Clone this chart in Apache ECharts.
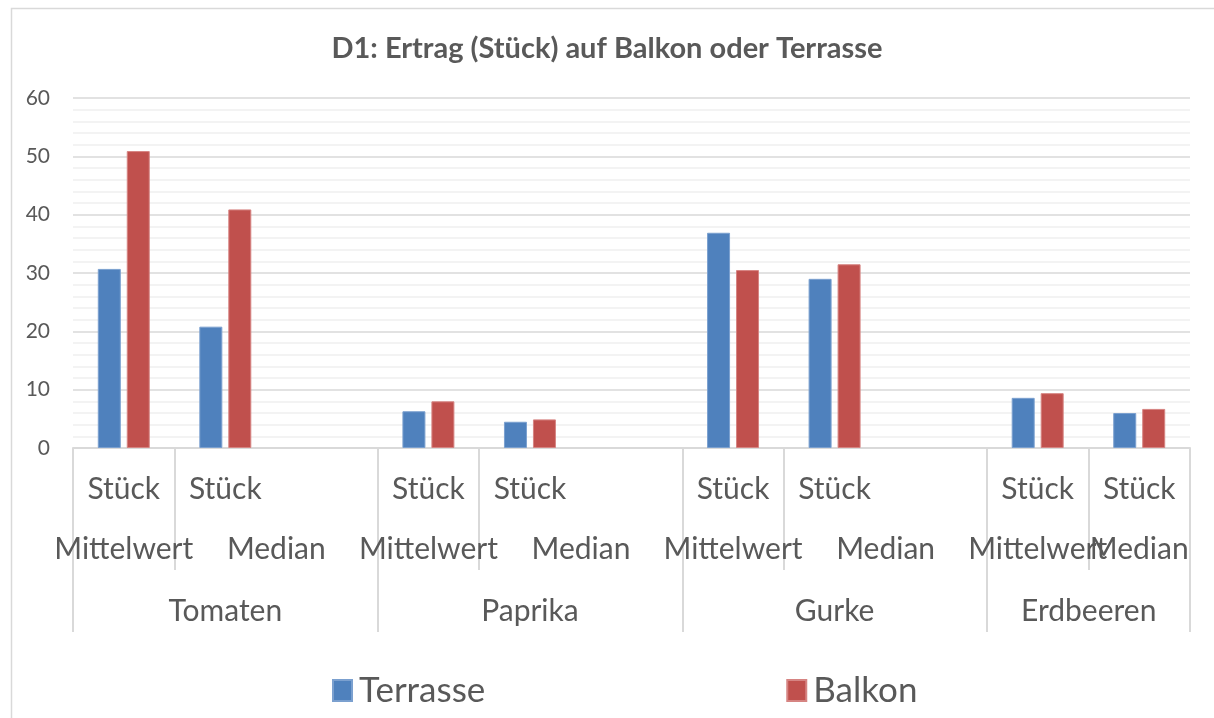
<!DOCTYPE html>
<html><head><meta charset="utf-8">
<script src="https://cdn.jsdelivr.net/npm/echarts@6/dist/echarts.min.js"></script>
<style>html,body{margin:0;padding:0;background:#fff}#c{width:1214px;height:718px}</style>
</head><body><div id="c"></div>
<script>
const chartTitle = 'D1: Ertrag (Stück) auf Balkon oder Terrasse';
const groups = ['Tomaten', 'Paprika', 'Gurke', 'Erdbeeren'];
const categories = ['Stück Mittelwert', 'Stück Median', '',
                    'Stück Mittelwert', 'Stück Median', '',
                    'Stück Mittelwert', 'Stück Median', '',
                    'Stück Mittelwert', 'Stück Median'];
const seriesNames = ['Terrasse', 'Balkon'];
const terrasse = [30.7, 20.8, null, 6.3, 4.5, null, 36.9, 29.0, null, 8.6, 6.0];
const balkon   = [50.9, 40.9, null, 8.0, 4.9, null, 30.5, 31.5, null, 9.4, 6.7];
const yMin = 0, yMax = 60, yStep = 10;

const FONT = 'Lato';
const TXT = '#595959';
const GRIDC = '#d9d9d9';
const W = 1214, H = 718;
const gridL = 73, gridR = 24, gridT = 98, gridB = 270;
const band = (W - gridL - gridR) / categories.length;

// group starts: where a 'Mittelwert' category begins a group
const starts = categories.map((c, i) => c.endsWith('Mittelwert') ? i : -1).filter(i => i >= 0);
const groupLabels = categories.map(() => '');
const groupShift = categories.map(() => false);
starts.forEach((s, g) => {
  const e = g + 1 < starts.length ? starts[g + 1] : categories.length;
  const c = (s + e) / 2 - 0.5;
  const idx = Math.floor(c);
  groupLabels[idx] = groups[g];
  groupShift[idx] = (c - idx) > 0.25;
});

const chart = echarts.init(document.getElementById('c'));
const subStyle = {fontFamily: FONT, fontSize: 30, color: TXT, lineHeight: 60, align: 'center'};
chart.setOption({
  animation: false,
  backgroundColor: '#fff',
  title: {
    text: chartTitle, left: 'center', top: 29,
    textStyle: {fontFamily: FONT, fontWeight: 'bold', fontSize: 29, color: TXT}
  },
  graphic: [{
    type: 'rect', left: 9, top: 6, silent: true,
    shape: {width: W + 10, height: H + 10},
    style: {fill: 'none', stroke: GRIDC, lineWidth: 1.5}
  }],
  legend: {
    data: seriesNames, left: 327, top: 668, itemWidth: 19, itemHeight: 21, itemGap: 301,
    icon: 'rect',
    textStyle: {fontFamily: FONT, fontSize: 35, color: TXT, width: 128, padding: [0, 0, 0, 2]}
  },
  grid: {left: gridL, right: gridR, top: gridT, bottom: gridB, containLabel: false},
  xAxis: [{
    type: 'category', data: categories, position: 'bottom',
    axisLine: {show: true, lineStyle: {color: GRIDC, width: 2}},
    axisTick: {show: true, length: 122, lineStyle: {color: GRIDC, width: 2},
      interval: (i) => !!categories[i] && categories[i].endsWith('Median')},
    axisLabel: {
      interval: 0, margin: 11,
      formatter: (v, i) => {
        if (!v) return '';
        const parts = v.split(' ');
        const shifted = i + 1 < categories.length && categories[i + 1] === '';
        return '{s|' + parts[0] + '}\n{' + (shifted ? 't' : 's') + '|' + parts[1] + '}';
      },
      rich: {s: subStyle, t: Object.assign({}, subStyle, {padding: [0, 0, 0, Math.round(band)]})}
    },
    splitLine: {show: false}
  }, {
    type: 'category', data: groupLabels, position: 'bottom', offset: 0,
    axisLine: {show: false},
    axisTick: {show: true, length: 184, lineStyle: {color: GRIDC, width: 2},
      interval: (i) => starts.includes(i)},
    axisLabel: {
      interval: 0, margin: 143,
      formatter: (v, i) => v ? ('{' + (groupShift[i] ? 'h' : 'g') + '|' + v + '}') : '',
      rich: {
        g: {fontFamily: FONT, fontSize: 30, color: TXT, lineHeight: 40, align: 'center'},
        h: {fontFamily: FONT, fontSize: 30, color: TXT, lineHeight: 40, align: 'center', padding: [0, 0, 0, Math.round(band)]}
      }
    },
    splitLine: {show: false}
  }],
  yAxis: {
    type: 'value', min: yMin, max: yMax, interval: yStep,
    axisLine: {show: false}, axisTick: {show: false},
    axisLabel: {fontFamily: FONT, fontSize: 21, color: TXT, margin: 23},
    splitLine: {lineStyle: {color: GRIDC, width: 1.5}},
    minorTick: {show: false, splitNumber: 5},
    minorSplitLine: {show: true, lineStyle: {color: '#f0f0f0', width: 1.5}}
  },
  series: [{
    name: seriesNames[0], type: 'bar', data: terrasse, barWidth: 23, barGap: '26%',
    itemStyle: {color: '#4f81bd', borderColor: '#7ba0cf', borderWidth: 1}
  }, {
    name: seriesNames[1], type: 'bar', data: balkon, barWidth: 23, barGap: '26%',
    itemStyle: {color: '#c0504d', borderColor: '#d68482', borderWidth: 1}
  }]
});
</script>
</body></html>
